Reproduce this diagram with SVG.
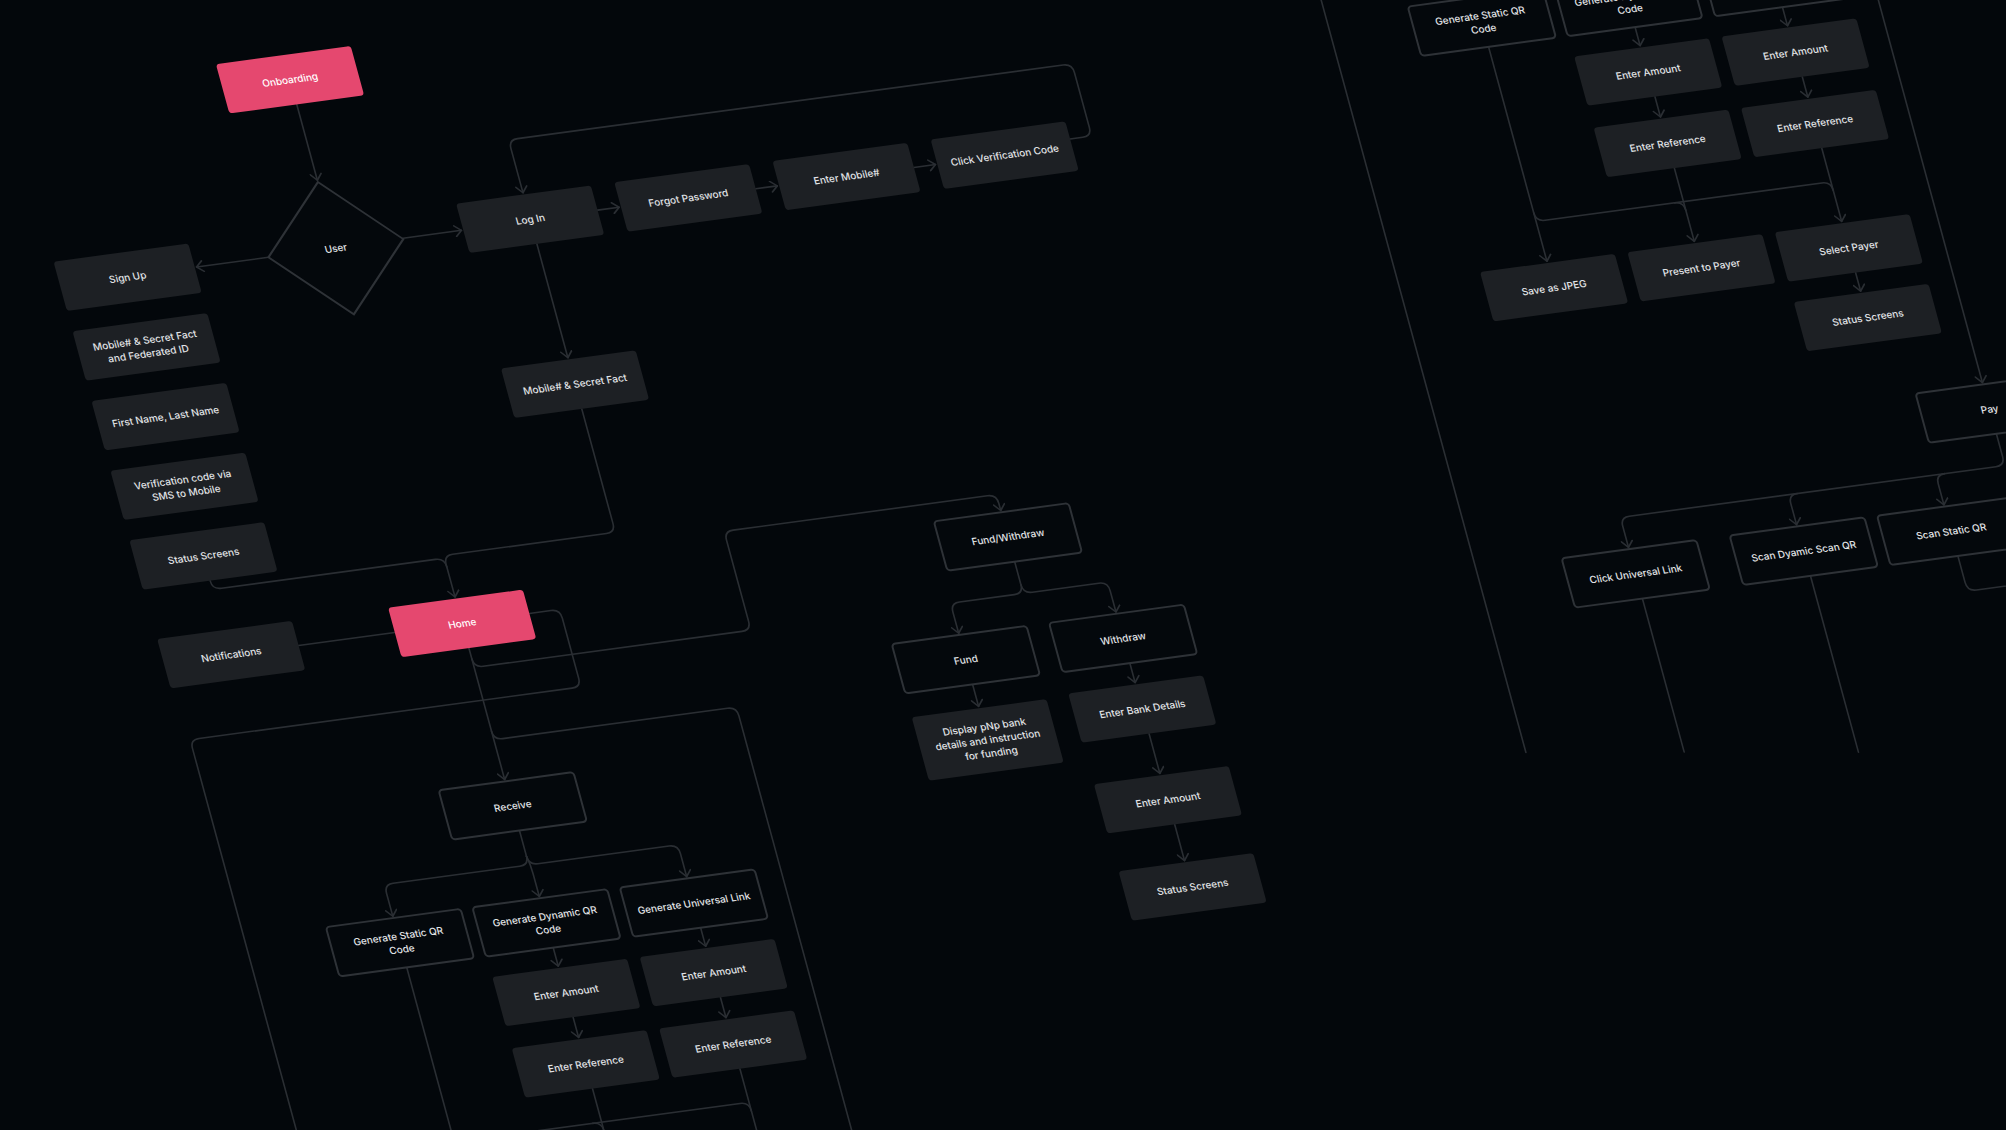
<svg xmlns="http://www.w3.org/2000/svg" width="2006" height="1130" viewBox="0 0 2006 1130">
<defs>
<style>
.c{fill:none;stroke:#2a2e33;stroke-width:1.8;stroke-linecap:round;stroke-linejoin:round}
.a{marker-end:url(#ah)}
.g{fill:#1d2024}
.p{fill:#e5486f}
.o{fill:#04080c;stroke:#2e3237;stroke-width:2.2}
.t{font-family:Inter,"Noto Sans","Liberation Sans",sans-serif;font-size:11px;font-weight:500;fill:#e2e4e7;text-anchor:middle}
.tw{fill:#ffffff}
</style>
<marker id="ah" viewBox="-9 -7 11 14" refX="0" refY="0" markerWidth="11" markerHeight="14" orient="auto" markerUnits="userSpaceOnUse">
<path d="M-7,-6 L0,0 L-7,6" fill="none" stroke="#2a2e33" stroke-width="1.8" stroke-linecap="round" stroke-linejoin="round"/>
</marker>
</defs>
<rect x="0" y="0" width="2006" height="1130" fill="#03070b"/>
<g transform="matrix(0.8987 -0.1213 0.24 0.882 0 0)">
<g id="connectors">
<path class="c a" d="M288,158 V244"/>
<path class="c a" d="M213,321 H133"/>
<path class="c a" d="M363,320 H428"/>
<path class="c a" d="M580,318 H604"/>
<path class="c a" d="M756,318 H780"/>
<path class="c a" d="M932,318 H956"/>
<path class="c a" d="M1108,310 H1122 Q1132,310 1132,300 V238 Q1132,228 1122,228 H515 Q505,228 505,238 V288"/>
<path class="c a" d="M505,346 V475"/>
<path class="c a" d="M505,533 V663 Q505,673 495,673 H324 Q314,673 314,683 V720"/>
<path class="c" d="M56,666 V667 Q56,676 66,676 H304 Q314,676 314,686"/>
<path class="c" d="M132,750 H239"/>
<path class="c a" d="M314,778 V927"/>
<path class="c a" d="M314,790 Q314,800 324,800 H612 Q622,800 622,790 V698 Q622,688 632,688 H915 Q925,688 925,698 V706"/>
<path class="c" d="M314,872 Q314,882 324,882 H574 Q584,882 584,892 V1420"/>
<path class="c" d="M389,749 H413 Q423,749 423,759 V827 Q423,837 413,837 H-2 Q-12,837 -12,847 V1420"/>
<path class="c a" d="M925,764 V790 Q925,800 915,800 H854 Q844,800 844,810 V834"/>
<path class="c a" d="M925,790 Q925,800 935,800 H1009 Q1019,800 1019,810 V834"/>
<path class="c a" d="M844,892 V917"/>
<path class="c a" d="M1019,892 V914"/>
<path class="c a" d="M1019,972 V1017"/>
<path class="c a" d="M1020,1075 V1116"/>
<path class="c" d="M315,985 V1014"/>
<path class="c a" d="M315,1014 Q315,1024 305,1024 H164 Q154,1024 154,1034 V1060"/>
<path class="c a" d="M315,1014 Q317,1024 317,1034 V1060"/>
<path class="c a" d="M315,1014 Q315,1024 325,1024 H471 Q481,1024 481,1034 V1060"/>
<path class="c a" d="M317,1118 V1139"/>
<path class="c a" d="M481,1118 V1139"/>
<path class="c a" d="M318,1197 V1220"/>
<path class="c a" d="M482,1197 V1220"/>
<path class="c" d="M154,1118 V1420"/>
<path class="c" d="M318,1278 V1420"/>
<path class="c" d="M482,1278 V1420"/>
<path class="c" d="M154,1306 Q154,1316 164,1316 H472 Q482,1316 482,1326"/>
<path class="c" d="M308,1316 Q318,1316 318,1326"/>
<path class="c a" d="M1747,271 V292"/>
<path class="c a" d="M1911,271 V292"/>
<path class="c a" d="M1748,350 V373"/>
<path class="c a" d="M1912,350 V373"/>
<path class="c a" d="M1584,271 V514"/>
<path class="c a" d="M1748,431 V514"/>
<path class="c a" d="M1912,431 V514"/>
<path class="c" d="M1584,459 Q1584,469 1594,469 H1902 Q1912,469 1912,479"/>
<path class="c" d="M1738,469 Q1748,469 1748,479"/>
<path class="c a" d="M1912,572 V593"/>
<path class="c" d="M1418,150 V1048"/>
<path class="c a" d="M2016,150 V711"/>
<path class="c a" d="M2016,769 V795 Q2016,805 2006,805 H1598 Q1588,805 1588,815 V839"/>
<path class="c a" d="M1949,805 Q1939,805 1939,815 V839"/>
<path class="c a" d="M1785,805 Q1775,805 1775,815 V839"/>
<path class="c" d="M1588,897 V1071"/>
<path class="c" d="M1775,897 V1097"/>
<path class="c" d="M1939,897 V927 Q1939,937 1949,937 H2150"/>
</g>
<g id="n-onboarding"><rect class="p" x="213" y="102" width="150" height="56" rx="4"/><text class="t tw" x="288" y="134">Onboarding</text></g>
<g id="n-user"><path class="o" d="M288,246 L363,321 L288,396 L213,321 Z" fill="none"/><text class="t" x="288" y="325">User</text></g>
<g id="n-signup"><rect class="g" x="-19" y="294" width="150" height="56" rx="4"/><text class="t" x="56" y="326">Sign Up</text></g>
<g id="n-mobile-fed"><rect class="g" x="-19" y="373" width="150" height="56" rx="4"/><text class="t" x="56" y="397.5">Mobile# &amp; Secret Fact<tspan x="56" dy="15">and Federated ID</tspan></text></g>
<g id="n-name"><rect class="g" x="-19" y="452" width="150" height="56" rx="4"/><text class="t" x="56" y="484">First Name, Last Name</text></g>
<g id="n-verif"><rect class="g" x="-19" y="531" width="150" height="56" rx="4"/><text class="t" x="56" y="555.5">Verification code via<tspan x="56" dy="15">SMS to Mobile</tspan></text></g>
<g id="n-status1"><rect class="g" x="-19" y="610" width="150" height="56" rx="4"/><text class="t" x="56" y="642">Status Screens</text></g>
<g id="n-login"><rect class="g" x="430" y="290" width="150" height="56" rx="4"/><text class="t" x="505" y="322">Log In</text></g>
<g id="n-forgot"><rect class="g" x="606" y="290" width="150" height="56" rx="4"/><text class="t" x="681" y="322">Forgot Password</text></g>
<g id="n-entermobile"><rect class="g" x="782" y="290" width="150" height="56" rx="4"/><text class="t" x="857" y="322">Enter Mobile#</text></g>
<g id="n-clickverif"><rect class="g" x="958" y="290" width="150" height="56" rx="4"/><text class="t" x="1033" y="322">Click Verification Code</text></g>
<g id="n-mobile-secret"><rect class="g" x="430" y="477" width="150" height="56" rx="4"/><text class="t" x="505" y="509">Mobile# &amp; Secret Fact</text></g>
<g id="n-home"><rect class="p" x="239" y="722" width="150" height="56" rx="4"/><text class="t tw" x="314" y="754">Home</text></g>
<g id="n-notifications"><rect class="g" x="-18" y="722" width="150" height="56" rx="4"/><text class="t" x="57" y="754">Notifications</text></g>
<g id="n-fundwithdraw"><rect class="o" x="850" y="708" width="150" height="56" rx="4"/><text class="t" x="925" y="740">Fund/Withdraw</text></g>
<g id="n-fund"><rect class="o" x="769" y="836" width="150" height="56" rx="4"/><text class="t" x="844" y="868">Fund</text></g>
<g id="n-withdraw"><rect class="o" x="944" y="836" width="150" height="56" rx="4"/><text class="t" x="1019" y="868">Withdraw</text></g>
<g id="n-display"><rect class="g" x="769" y="919" width="150" height="72" rx="4"/><text class="t" x="844" y="944">Display pNp bank<tspan x="844" dy="15">details and instruction</tspan><tspan x="844" dy="15">for funding</tspan></text></g>
<g id="n-bankdetails"><rect class="g" x="944" y="916" width="150" height="56" rx="4"/><text class="t" x="1019" y="948">Enter Bank Details</text></g>
<g id="n-amount-w"><rect class="g" x="945" y="1019" width="150" height="56" rx="4"/><text class="t" x="1020" y="1051">Enter Amount</text></g>
<g id="n-status-w"><rect class="g" x="946" y="1118" width="150" height="56" rx="4"/><text class="t" x="1021" y="1150">Status Screens</text></g>
<g id="n-receive"><rect class="o" x="240" y="929" width="150" height="56" rx="4"/><text class="t" x="315" y="961">Receive</text></g>
<g id="n-gsqr"><rect class="o" x="79" y="1062" width="150" height="56" rx="4"/><text class="t" x="154" y="1086.5">Generate Static QR<tspan x="154" dy="15">Code</tspan></text></g>
<g id="n-gdqr"><rect class="o" x="242" y="1062" width="150" height="56" rx="4"/><text class="t" x="317" y="1086.5">Generate Dynamic QR<tspan x="317" dy="15">Code</tspan></text></g>
<g id="n-gul"><rect class="o" x="406" y="1062" width="150" height="56" rx="4"/><text class="t" x="481" y="1094">Generate Universal Link</text></g>
<g id="n-amount-d"><rect class="g" x="243" y="1141" width="150" height="56" rx="4"/><text class="t" x="318" y="1173">Enter Amount</text></g>
<g id="n-amount-u"><rect class="g" x="407" y="1141" width="150" height="56" rx="4"/><text class="t" x="482" y="1173">Enter Amount</text></g>
<g id="n-ref-d"><rect class="g" x="243" y="1222" width="150" height="56" rx="4"/><text class="t" x="318" y="1254">Enter Reference</text></g>
<g id="n-ref-u"><rect class="g" x="407" y="1222" width="150" height="56" rx="4"/><text class="t" x="482" y="1254">Enter Reference</text></g>
<g id="n-tr-gsqr"><rect class="o" x="1509" y="215" width="150" height="56" rx="4"/><text class="t" x="1584" y="239.5">Generate Static QR<tspan x="1584" dy="15">Code</tspan></text></g>
<g id="n-tr-gdqr"><rect class="o" x="1672" y="215" width="150" height="56" rx="4"/><text class="t" x="1747" y="239.5">Generate Dynamic QR<tspan x="1747" dy="15">Code</tspan></text></g>
<g id="n-tr-gul"><rect class="o" x="1836" y="215" width="150" height="56" rx="4"/></g>
<g id="n-tr-amount-d"><rect class="g" x="1673" y="294" width="150" height="56" rx="4"/><text class="t" x="1748" y="326">Enter Amount</text></g>
<g id="n-tr-amount-u"><rect class="g" x="1837" y="294" width="150" height="56" rx="4"/><text class="t" x="1912" y="326">Enter Amount</text></g>
<g id="n-tr-ref-d"><rect class="g" x="1673" y="375" width="150" height="56" rx="4"/><text class="t" x="1748" y="407">Enter Reference</text></g>
<g id="n-tr-ref-u"><rect class="g" x="1837" y="375" width="150" height="56" rx="4"/><text class="t" x="1912" y="407">Enter Reference</text></g>
<g id="n-savejpeg"><rect class="g" x="1509" y="516" width="150" height="56" rx="4"/><text class="t" x="1584" y="548">Save as JPEG</text></g>
<g id="n-present"><rect class="g" x="1673" y="516" width="150" height="56" rx="4"/><text class="t" x="1748" y="548">Present to Payer</text></g>
<g id="n-selectpayer"><rect class="g" x="1837" y="516" width="150" height="56" rx="4"/><text class="t" x="1912" y="548">Select Payer</text></g>
<g id="n-status-tr"><rect class="g" x="1837" y="595" width="150" height="56" rx="4"/><text class="t" x="1912" y="627">Status Screens</text></g>
<g id="n-pay"><rect class="o" x="1941" y="713" width="150" height="56" rx="4"/><text class="t" x="2016" y="745">Pay</text></g>
<g id="n-cul"><rect class="o" x="1513" y="841" width="150" height="56" rx="4"/><text class="t" x="1588" y="873">Click Universal Link</text></g>
<g id="n-sdsqr"><rect class="o" x="1700" y="841" width="150" height="56" rx="4"/><text class="t" x="1775" y="873">Scan Dyamic Scan QR</text></g>
<g id="n-ssqr"><rect class="o" x="1864" y="841" width="150" height="56" rx="4"/><text class="t" x="1939" y="873">Scan Static QR</text></g>
</g>
</svg>
